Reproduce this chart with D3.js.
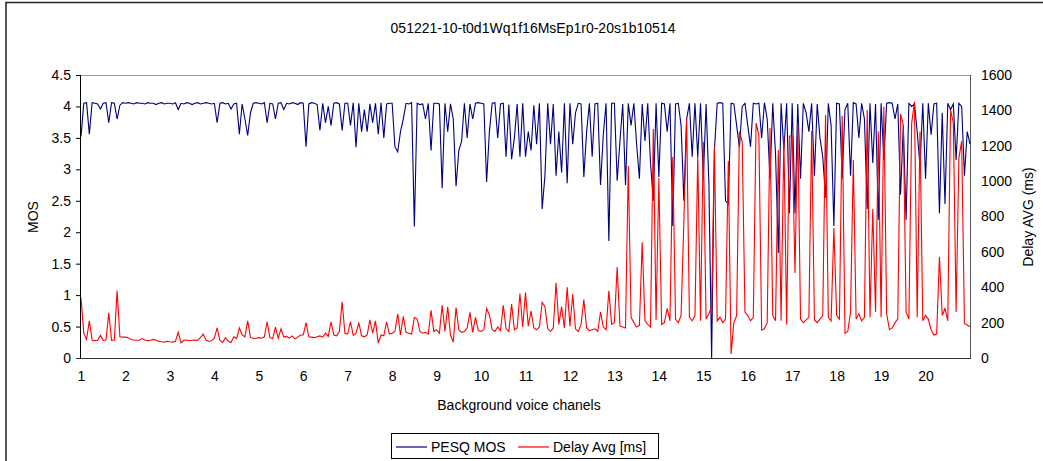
<!DOCTYPE html>
<html>
<head>
<meta charset="utf-8">
<script src="https://d3js.org/d3.v7.min.js"></script>
<title>051221-10-t0d1Wq1f16MsEp1r0-20s1b10514</title>
<style>
	body { margin: 0; background: #fff; }
	text { font-family: Arial, "Liberation Sans", sans-serif; fill: #000; }
</style>
</head>
<body>
<svg id="chart" width="1043" height="461"></svg>
<script>
// chart title and axis texts
const title = "051221-10-t0d1Wq1f16MsEp1r0-20s1b10514";
const xTitle = "Background voice chanels";
const yLeftTitle = "MOS";
const yRightTitle = "Delay AVG (ms)";
const seriesNames = ["PESQ MOS", "Delay Avg [ms]"];

// tick labels
const xTicks = [1, 2, 3, 4, 5, 6, 7, 8, 9, 10, 11, 12, 13, 14, 15, 16, 17, 18, 19, 20];
const mosTicks = [0, 0.5, 1, 1.5, 2, 2.5, 3, 3.5, 4, 4.5];
const delayTicks = [0, 200, 400, 600, 800, 1000, 1200, 1400, 1600];

// 16 samples per background channel count
const samplesPerChannel = 16;

// PESQ MOS, one row per channel count (1..20) plus the last sample
const mos = [
	3.52, 4.05, 4.06, 3.56, 4.06, 4.05, 4.04, 3.96, 4.05, 4.06, 3.74, 4.06, 4.05, 3.80, 4.02, 4.06,
	4.05, 4.06, 4.05, 4.04, 4.06, 4.05, 4.05, 4.04, 4.06, 4.05, 4.05, 4.03, 4.05, 4.06, 4.04, 4.05,
	4.05, 4.04, 4.06, 3.95, 4.05, 4.04, 4.06, 4.05, 4.03, 4.05, 4.06, 4.04, 4.05, 4.06, 4.05, 4.04,
	4.05, 3.74, 4.05, 4.06, 4.04, 4.05, 3.96, 4.04, 4.05, 3.56, 4.04, 3.80, 3.54, 3.90, 4.05, 4.06,
	4.05, 4.04, 4.06, 3.74, 4.05, 4.04, 3.80, 4.05, 4.06, 3.95, 4.05, 4.04, 4.06, 4.05, 4.03, 4.06,
	4.05, 3.36, 4.04, 4.06, 4.05, 4.03, 3.62, 4.05, 3.74, 4.00, 3.70, 4.05, 4.06, 4.04, 3.62, 4.05,
	4.05, 3.70, 4.06, 3.35, 4.05, 3.60, 3.95, 3.60, 4.04, 3.74, 4.05, 3.56, 4.06, 3.50, 4.04, 4.05,
	4.05, 3.36, 3.28, 3.60, 3.80, 4.05, 4.04, 4.06, 2.09, 4.05, 4.03, 4.04, 3.80, 4.05, 3.30, 4.05,
	4.05, 4.04, 2.70, 4.05, 3.60, 4.04, 3.80, 2.73, 3.30, 3.45, 4.05, 3.50, 4.04, 3.80, 4.05, 4.06,
	4.05, 4.04, 2.80, 3.60, 4.05, 4.06, 3.50, 4.04, 4.05, 3.20, 4.03, 3.16, 3.50, 4.04, 3.20, 4.05,
	3.20, 3.60, 3.30, 4.02, 3.40, 4.05, 2.37, 2.90, 4.05, 3.40, 4.04, 2.90, 3.60, 2.95, 4.05, 2.78,
	4.05, 3.40, 3.90, 4.05, 4.04, 2.88, 3.60, 4.05, 3.20, 4.04, 4.05, 2.75, 3.55, 4.05, 1.86, 4.05,
	4.05, 2.82, 3.45, 4.04, 2.75, 4.05, 3.70, 4.05, 3.40, 2.85, 4.04, 3.45, 4.05, 3.10, 2.50, 4.05,
	2.88, 4.05, 4.04, 3.60, 4.05, 2.10, 4.04, 4.05, 3.70, 2.50, 3.80, 4.05, 3.20, 4.05, 3.20, 4.05,
	2.85, 4.04, 2.80, 0.00, 3.30, 4.05, 4.06, 4.05, 2.50, 2.45, 4.05, 4.04, 3.70, 3.35, 4.00, 4.05,
	3.70, 3.36, 4.05, 4.04, 4.05, 3.50, 4.06, 3.80, 2.85, 4.05, 3.25, 1.67, 4.05, 3.30, 4.05, 2.30,
	4.05, 2.30, 4.04, 2.85, 4.05, 3.90, 3.60, 4.05, 2.90, 4.04, 3.50, 3.20, 2.55, 4.05, 3.70, 2.10,
	4.05, 4.04, 2.85, 3.95, 4.05, 2.90, 4.06, 4.04, 3.50, 4.05, 3.80, 2.37, 4.05, 3.10, 4.04, 2.20,
	4.05, 3.15, 4.05, 4.06, 4.05, 3.80, 4.04, 2.60, 3.70, 2.20, 4.05, 4.00, 4.04, 3.60, 3.05, 4.05,
	2.85, 4.05, 3.55, 4.04, 4.05, 2.30, 3.90, 2.45, 4.05, 3.95, 4.04, 3.15, 4.05, 4.00, 2.90, 3.60,
	3.40
];

// average delay in ms, same sampling
const delay = [
	340, 140, 105, 210, 100, 98, 100, 128, 100, 102, 255, 100, 102, 380, 120, 118,
	118, 115, 105, 102, 100, 100, 110, 102, 98, 100, 105, 100, 95, 92, 90, 95,
	92, 90, 95, 145, 85, 100, 102, 98, 100, 102, 100, 115, 135, 100, 95, 98,
	112, 170, 100, 88, 115, 95, 88, 120, 110, 170, 130, 120, 210, 118, 110, 112,
	115, 112, 120, 205, 115, 110, 175, 112, 165, 118, 122, 112, 125, 108, 118, 130,
	130, 200, 120, 118, 115, 120, 125, 118, 140, 122, 205, 130, 125, 150, 318, 140,
	135, 205, 128, 140, 200, 125, 120, 130, 215, 140, 210, 85, 130, 125, 205, 135,
	140, 150, 250, 130, 235, 145, 140, 135, 230, 220, 150, 140, 145, 135, 270, 150,
	160, 140, 298, 150, 290, 130, 90, 285, 160, 145, 150, 170, 258, 145, 230, 155,
	150, 160, 280, 245, 160, 150, 175, 155, 298, 165, 150, 305, 160, 170, 365, 175,
	370, 180, 265, 170, 160, 175, 315, 290, 165, 150, 170, 425, 190, 290, 170, 400,
	180, 360, 165, 150, 190, 330, 170, 155, 160, 165, 150, 260, 175, 160, 380, 190,
	200, 514, 180, 175, 170, 1086, 230, 200, 175, 185, 655, 210, 190, 175, 1295, 215,
	1017, 190, 200, 280, 210, 1136, 220, 200, 240, 770, 1351, 230, 210, 240, 1142, 210,
	1223, 220, 250, 290, 1195, 210, 230, 200, 220, 1114, 23, 200, 240, 1280, 1223, 260,
	240, 210, 230, 1328, 1260, 158, 165, 200, 1300, 240, 210, 1176, 210, 1251, 190, 1255,
	1255, 480, 1320, 220, 200, 215, 230, 1283, 215, 200, 220, 240, 1374, 230, 210, 735,
	240, 220, 1370, 140, 150, 260, 1119, 220, 250, 210, 230, 1402, 230, 842, 260, 1280,
	230, 1421, 250, 160, 170, 200, 220, 1380, 1317, 260, 220, 1328, 1449, 230, 1280, 210,
	240, 220, 160, 130, 135, 573, 240, 280, 210, 1402, 1330, 260, 1130, 1226, 195, 186,
	177
];

const plot = { left: 81, right: 970, top: 75, bottom: 358 };

const svg = d3.select("#chart");

// outer chart area (only the top and left edges fall inside the picture)
svg.append("rect")
	.attr("x", 6).attr("y", 2.5)
	.attr("width", 1100).attr("height", 600)
	.attr("fill", "#fff")
	.attr("stroke", "#222")
	.attr("stroke-width", 1.5);

const x = d3.scaleLinear().domain([1, 21]).range([plot.left, plot.right]);
const yMos = d3.scaleLinear().domain([0, 4.5]).range([plot.bottom, plot.top]);
const yDelay = d3.scaleLinear().domain([0, 1600]).range([plot.bottom, plot.top]);

const xOf = (d, i) => x(1 + i / samplesPerChannel);

svg.append("text")
	.attr("x", 533).attr("y", 33)
	.attr("text-anchor", "middle")
	.style("font-size", "14px")
	.text(title);

// plot frame
svg.append("line")
	.attr("x1", plot.left).attr("x2", plot.right)
	.attr("y1", plot.top + 0.5).attr("y2", plot.top + 0.5)
	.attr("stroke", "#9a9a9a");
svg.append("line")
	.attr("x1", plot.right + 0.5).attr("x2", plot.right + 0.5)
	.attr("y1", plot.top).attr("y2", plot.bottom)
	.attr("stroke", "#555");

// left axis
const leftAxis = svg.append("g")
	.attr("transform", `translate(${plot.left},0)`)
	.call(d3.axisLeft(yMos).tickValues(mosTicks).tickSize(5).tickPadding(5).tickFormat(d => d));
leftAxis.select(".domain").remove();
leftAxis.selectAll("text").style("font-size", "14px").attr("font-family", null);

// right axis
const rightAxis = svg.append("g")
	.attr("transform", `translate(${plot.right},0)`)
	.call(d3.axisRight(yDelay).tickValues(delayTicks).tickSize(0).tickPadding(11).tickFormat(d => d));
rightAxis.select(".domain").remove();
rightAxis.selectAll("text").style("font-size", "14px").attr("font-family", null);

// bottom axis
const bottomAxis = svg.append("g")
	.attr("transform", `translate(0,${plot.bottom})`)
	.call(d3.axisBottom(x).tickValues(xTicks).tickSize(0).tickPadding(13));
bottomAxis.select(".domain").remove();
bottomAxis.selectAll("text").style("font-size", "14px").attr("font-family", null);

// series
const mosLine = d3.line().x(xOf).y(d => yMos(d));
const delayLine = d3.line().x(xOf).y(d => yDelay(d));

svg.append("path")
	.datum(mos)
	.attr("d", mosLine)
	.attr("fill", "none")
	.attr("stroke", "#000080")
	.attr("stroke-width", 1.1);

svg.append("path")
	.datum(delay)
	.attr("d", delayLine)
	.attr("fill", "none")
	.attr("stroke", "#ff0000")
	.attr("stroke-width", 1.1);

// axis lines drawn over the series
svg.append("line")
	.attr("x1", plot.left - 0.5).attr("x2", plot.left - 0.5)
	.attr("y1", plot.top).attr("y2", plot.bottom + 0.5)
	.attr("stroke", "#000");
svg.append("line")
	.attr("x1", plot.left - 5).attr("x2", plot.right + 1)
	.attr("y1", plot.bottom + 0.5).attr("y2", plot.bottom + 0.5)
	.attr("stroke", "#333");

// axis titles
svg.append("text")
	.attr("transform", `translate(38,217) rotate(-90)`)
	.attr("text-anchor", "middle")
	.style("font-size", "14px")
	.text(yLeftTitle);

svg.append("text")
	.attr("transform", `translate(1033,217) rotate(-90)`)
	.attr("text-anchor", "middle")
	.style("font-size", "14px")
	.text(yRightTitle);

svg.append("text")
	.attr("x", 519).attr("y", 410)
	.attr("text-anchor", "middle")
	.style("font-size", "14px")
	.text(xTitle);

// legend
const legend = svg.append("g");
legend.append("rect")
	.attr("x", 391.5).attr("y", 433.5)
	.attr("width", 267).attr("height", 25)
	.attr("fill", "#fff")
	.attr("stroke", "#000");

const legendItems = [
	{ name: seriesNames[0], color: "#000080", x0: 396, tx: 431 },
	{ name: seriesNames[1], color: "#ff0000", x0: 518, tx: 553 }
];
legendItems.forEach(d => {
	legend.append("line")
		.attr("x1", d.x0).attr("x2", d.x0 + 31)
		.attr("y1", 447).attr("y2", 447)
		.attr("stroke", d.color)
		.attr("stroke-width", 1.2);
	legend.append("text")
		.attr("x", d.tx).attr("y", 452)
		.style("font-size", "14px")
		.text(d.name);
});
</script>
</body>
</html>
